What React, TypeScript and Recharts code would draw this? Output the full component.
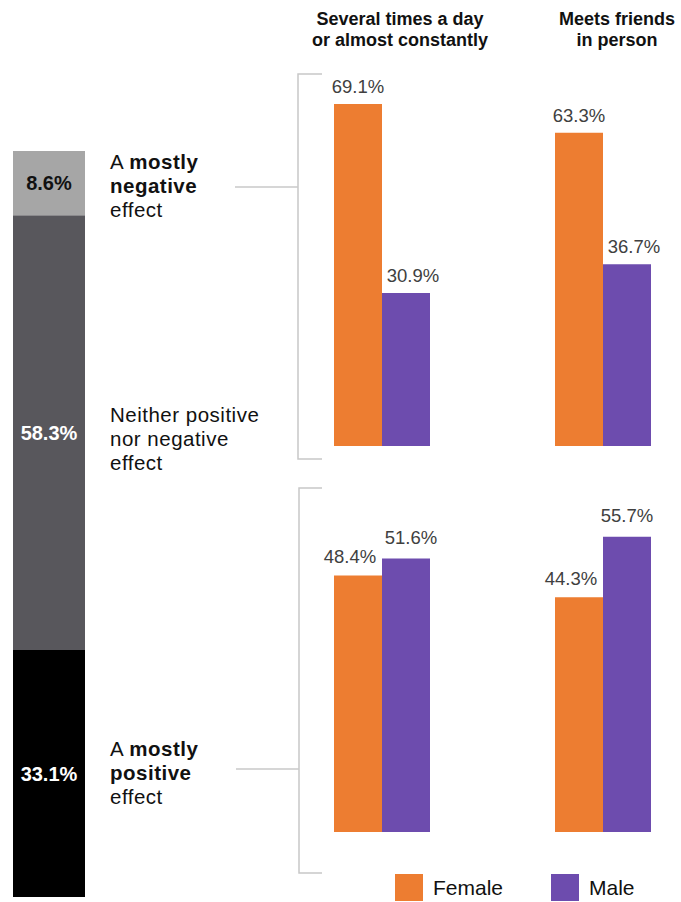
import { Bar, BarChart, LabelList, XAxis, YAxis } from "recharts";

const FONT = "'Liberation Sans', Arial, Helvetica, sans-serif";

// overall split of the effect, bottom to top
const effectKeys = ["positive", "neutral", "negative"];
const effectShares = [33.1, 58.3, 8.6];
const effectColors = ["#000000", "#58575c", "#a6a6a6"];
const effectLabelColors = ["#ffffff", "#ffffff", "#111111"];

// columns on the right
const columnTitles = [
  ["Several times a day", "or almost constantly"],
  ["Meets friends", "in person"],
];
const negativeFemale = [69.1, 63.3];
const negativeMale = [30.9, 36.7];
const positiveFemale = [48.4, 44.3];
const positiveMale = [51.6, 55.7];

const seriesNames = ["Female", "Male"];
const seriesColors = ["#ed7d31", "#6d4cae"];

const stackRow = [{ name: "all", ...Object.fromEntries(effectKeys.map((k, i) => [k, effectShares[i]])) }];

const columnCenters = [382, 603];
const titleCenters = [400, 617];

function pctLabel(dx: number, offset: number) {
  return (props: any) => {
    const { x, y, width, value } = props;
    return (
      <text
        x={Number(x) + Number(width) / 2 + dx}
        y={Number(y) - offset}
        textAnchor="middle"
        fill="#404040"
        fontSize={18.5}
        fontFamily={FONT}
      >
        {Number(value).toFixed(1)}%
      </text>
    );
  };
}

function stackLabel(color: string) {
  return (props: any) => {
    const { x, y, width, height, value } = props;
    return (
      <text
        x={Number(x) + Number(width) / 2}
        y={Number(y) + Number(height) / 2 + 7}
        textAnchor="middle"
        fill={color}
        fontSize={20}
        fontWeight="bold"
        fontFamily={FONT}
      >
        {Number(value).toFixed(1)}%
      </text>
    );
  };
}

interface GroupProps {
  female: number;
  male: number;
  center: number;
  top: number;
  height: number;
  max: number;
  femaleDx: number;
  femaleOff: number;
  maleDx: number;
  maleOff: number;
}

function GroupChart(p: GroupProps) {
  const data = [{ name: "g", female: p.female, male: p.male }];
  return (
    <div style={{ position: "absolute", left: p.center - 70, top: p.top }}>
      <BarChart
        width={140}
        height={p.height}
        data={data}
        margin={{ top: 0, right: 0, bottom: 0, left: 0 }}
        barGap={0}
        style={{ overflow: "visible" }}
      >
        <XAxis dataKey="name" hide />
        <YAxis hide domain={[0, p.max]} />
        <Bar dataKey="female" fill={seriesColors[0]} barSize={48} isAnimationActive={false}>
          <LabelList dataKey="female" content={pctLabel(p.femaleDx, p.femaleOff)} />
        </Bar>
        <Bar dataKey="male" fill={seriesColors[1]} barSize={48} isAnimationActive={false}>
          <LabelList dataKey="male" content={pctLabel(p.maleDx, p.maleOff)} />
        </Bar>
      </BarChart>
    </div>
  );
}

function SideText({ x, y, lines }: { x: number; y: number; lines: (string | [string, string])[] }) {
  return (
    <text x={x} y={y} fontSize={20.5} fontFamily={FONT} fill="#111" letterSpacing={0.5}>
      {lines.map((ln, i) =>
        typeof ln === "string" ? (
          <tspan key={i} x={x} dy={i === 0 ? 0 : 24}>
            {ln}
          </tspan>
        ) : (
          <tspan key={i} x={x} dy={i === 0 ? 0 : 24}>
            {ln[0]}
            <tspan fontWeight="bold">{ln[1]}</tspan>
          </tspan>
        )
      )}
    </text>
  );
}

export default function App() {
  const line = "#c8c8c8";
  return (
    <div style={{ position: "absolute", left: 0, top: 0, width: 681, height: 902, background: "#fff", overflow: "hidden" }}>
      <svg width={681} height={902} style={{ position: "absolute", left: 0, top: 0 }}>
        {/* brackets */}
        <polyline points="322,74 298,74 298,459 322,459" fill="none" stroke={line} strokeWidth={1.5} />
        <line x1={235} y1={187} x2={298} y2={187} stroke={line} strokeWidth={1.5} />
        <polyline points="322,488 299,488 299,873 322,873" fill="none" stroke={line} strokeWidth={1.5} />
        <line x1={236} y1={769} x2={299} y2={769} stroke={line} strokeWidth={1.5} />

        {columnTitles.map((t, i) => (
          <text key={i} textAnchor="middle" fontSize={18} fontWeight="bold" fontFamily={FONT} fill="#111">
            <tspan x={titleCenters[i]} y={25}>{t[0]}</tspan>
            <tspan x={titleCenters[i]} y={46}>{t[1]}</tspan>
          </text>
        ))}

        <SideText x={110} y={169} lines={[["A ", "mostly"], ["", "negative"], "effect"]} />
        <SideText x={110} y={422} lines={["Neither positive", "nor negative", "effect"]} />
        <SideText x={110} y={756} lines={[["A ", "mostly"], ["", "positive"], "effect"]} />

        {/* legend */}
        {seriesNames.map((n, i) => (
          <g key={n}>
            <rect x={395 + i * 156} y={874} width={28} height={27} fill={seriesColors[i]} />
            <text x={433 + i * 156} y={895} fontSize={21} fontFamily={FONT} fill="#111">
              {n}
            </text>
          </g>
        ))}
      </svg>

      <div style={{ position: "absolute", left: 9, top: 151 }}>
        <BarChart
          width={80}
          height={746}
          data={stackRow}
          margin={{ top: 0, right: 0, bottom: 0, left: 0 }}
          barCategoryGap={0}
        >
          <XAxis dataKey="name" hide />
          <YAxis hide domain={[0, 100]} />
          {effectKeys.map((k, i) => (
            <Bar key={k} dataKey={k} stackId="a" fill={effectColors[i]} barSize={80} isAnimationActive={false}>
              <LabelList dataKey={k} content={stackLabel(effectLabelColors[i])} />
            </Bar>
          ))}
        </BarChart>
      </div>

      {columnCenters.map((c, i) => (
        <GroupChart
          key={"n" + i}
          female={negativeFemale[i]}
          male={negativeMale[i]}
          center={c}
          top={50}
          height={396}
          max={80}
          femaleDx={0}
          femaleOff={11}
          maleDx={7}
          maleOff={11}
        />
      ))}
      {columnCenters.map((c, i) => (
        <GroupChart
          key={"p" + i}
          female={positiveFemale[i]}
          male={positiveMale[i]}
          center={c}
          top={461}
          height={371}
          max={70}
          femaleDx={-8}
          femaleOff={12}
          maleDx={i === 0 ? 5 : 0}
          maleOff={15}
        />
      ))}
    </div>
  );
}
